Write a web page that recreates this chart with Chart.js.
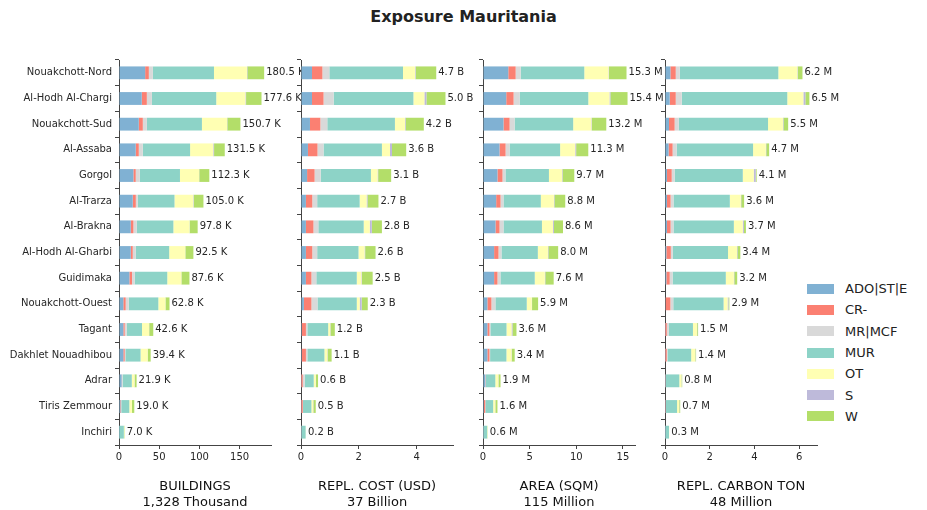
<!DOCTYPE html>
<html>
<head>
<meta charset="utf-8">
<script src="https://cdn.jsdelivr.net/npm/chart.js@4"></script>
<style>
  body { margin: 0; width: 927px; height: 510px; background: #fff; position: relative; overflow: hidden; font-family: "DejaVu Sans", sans-serif; }
  #title { position: absolute; top: 7px; left: 0; width: 927px; text-align: center; font-size: 16px; font-weight: bold; color: #222; }
  .panel { position: absolute; top: 0; height: 510px; }
  #legend { position: absolute; left: 807px; top: 278px; font-size: 13px; color: #222; }
  #legend div { height: 21.3px; display: flex; align-items: center; }
  #legend span.box { display: inline-block; width: 27px; height: 10px; margin-right: 11px; }
</style>
</head>
<body>
<div id="title">Exposure Mauritania</div>
<div id="legend"></div>

<script>
const regions = ["Nouakchott-Nord", "Al-Hodh Al-Chargi", "Nouakchott-Sud", "Al-Assaba", "Gorgol", "Al-Trarza",
  "Al-Brakna", "Al-Hodh Al-Gharbi", "Guidimaka", "Nouakchott-Ouest", "Tagant", "Dakhlet Nouadhibou",
  "Adrar", "Tiris Zemmour", "Inchiri"];
const seriesNames = ["ADO|ST|E", "CR-", "MR|MCF", "MUR", "OT", "S", "W"];
const seriesColors = ["#80b1d3", "#fb8072", "#d9d9d9", "#8dd3c7", "#ffffb3", "#bebada", "#b3de69"];

// rows = regions, columns = seriesNames
const buildings = [
  [32.5, 4.6, 5.0, 76.0, 41.0, 0.5, 20.9],
  [28.3, 6.3, 6.3, 80.0, 36.3, 0.8, 19.2],
  [24.6, 5.0, 5.0, 68.5, 31.3, 0.3, 16.3],
  [20.8, 3.8, 5.0, 58.8, 28.8, 1.0, 13.3],
  [17.9, 2.9, 5.0, 50.0, 23.8, 0.2, 12.5],
  [17.1, 3.8, 2.5, 45.6, 23.3, 0.6, 12.1],
  [14.6, 3.3, 4.2, 45.5, 20.0, 0.2, 10.0],
  [14.6, 2.5, 3.8, 41.5, 20.0, 0.1, 10.0],
  [12.9, 3.3, 3.3, 40.5, 17.5, 0.1, 10.0],
  [5.4, 2.9, 3.8, 36.8, 8.8, 0.1, 5.0],
  [5.4, 1.7, 2.5, 19.0, 8.8, 0.2, 5.0],
  [5.4, 1.7, 0.8, 18.9, 8.8, 0.1, 3.7],
  [3.3, 0.3, 0.8, 11.5, 3.3, 0.2, 2.5],
  [1.7, 0.8, 0.3, 10.0, 3.3, 0.0, 2.9],
  [0.3, 0.0, 0.0, 5.7, 0.5, 0.0, 0.5]
];
const replCost = [
  [0.38, 0.36, 0.24, 2.55, 0.42, 0.02, 0.71],
  [0.38, 0.40, 0.35, 2.76, 0.38, 0.07, 0.66],
  [0.31, 0.36, 0.24, 2.34, 0.35, 0.02, 0.63],
  [0.24, 0.33, 0.21, 2.02, 0.28, 0.07, 0.49],
  [0.21, 0.26, 0.21, 1.74, 0.23, 0.02, 0.45],
  [0.17, 0.22, 0.17, 1.47, 0.24, 0.03, 0.38],
  [0.17, 0.26, 0.17, 1.57, 0.21, 0.07, 0.35],
  [0.17, 0.22, 0.17, 1.43, 0.21, 0.02, 0.36],
  [0.17, 0.19, 0.17, 1.40, 0.16, 0.02, 0.37],
  [0.10, 0.26, 0.21, 1.36, 0.10, 0.07, 0.21],
  [0.03, 0.14, 0.05, 0.72, 0.07, 0.01, 0.15],
  [0.03, 0.14, 0.05, 0.59, 0.10, 0.01, 0.14],
  [0.01, 0.05, 0.07, 0.31, 0.07, 0.01, 0.07],
  [0.01, 0.05, 0.01, 0.29, 0.06, 0.01, 0.08],
  [0.01, 0.00, 0.01, 0.14, 0.01, 0.00, 0.00]
];
const area = [
  [2.71, 0.79, 0.54, 6.82, 2.60, 0.05, 1.88],
  [2.49, 0.79, 0.65, 7.36, 2.27, 0.10, 1.84],
  [2.20, 0.65, 0.54, 6.28, 1.95, 0.05, 1.55],
  [1.77, 0.65, 0.43, 5.42, 1.62, 0.10, 1.30],
  [1.55, 0.54, 0.32, 4.66, 1.41, 0.05, 1.26],
  [1.41, 0.47, 0.32, 4.00, 1.41, 0.05, 1.16],
  [1.34, 0.43, 0.43, 4.12, 1.19, 0.10, 0.97],
  [1.19, 0.47, 0.32, 3.90, 1.08, 0.05, 1.05],
  [1.19, 0.36, 0.32, 3.68, 1.08, 0.05, 0.90],
  [0.47, 0.43, 0.43, 3.36, 0.54, 0.03, 0.65],
  [0.47, 0.22, 0.10, 1.73, 0.54, 0.10, 0.43],
  [0.47, 0.22, 0.07, 1.75, 0.54, 0.03, 0.32],
  [0.25, 0.03, 0.04, 1.00, 0.32, 0.02, 0.22],
  [0.10, 0.14, 0.02, 0.83, 0.22, 0.02, 0.22],
  [0.03, 0.00, 0.02, 0.40, 0.05, 0.00, 0.02]
];
const carbon = [
  [0.24, 0.24, 0.18, 4.41, 0.85, 0.02, 0.21],
  [0.21, 0.27, 0.27, 4.72, 0.72, 0.09, 0.18],
  [0.18, 0.25, 0.18, 4.00, 0.67, 0.02, 0.21],
  [0.16, 0.18, 0.18, 3.42, 0.57, 0.02, 0.13],
  [0.09, 0.21, 0.13, 3.05, 0.49, 0.09, 0.04],
  [0.09, 0.16, 0.13, 2.52, 0.49, 0.02, 0.13],
  [0.09, 0.16, 0.13, 2.70, 0.40, 0.05, 0.09],
  [0.06, 0.20, 0.09, 2.47, 0.40, 0.02, 0.13],
  [0.06, 0.15, 0.13, 2.38, 0.36, 0.02, 0.13],
  [0.03, 0.21, 0.13, 2.25, 0.18, 0.04, 0.04],
  [0.01, 0.07, 0.09, 1.08, 0.18, 0.01, 0.04],
  [0.01, 0.07, 0.03, 1.06, 0.18, 0.01, 0.03],
  [0.01, 0.01, 0.02, 0.60, 0.09, 0.01, 0.03],
  [0.01, 0.02, 0.01, 0.50, 0.09, 0.01, 0.04],
  [0.01, 0.00, 0.01, 0.16, 0.01, 0.00, 0.00]
];

const buildingsLabels = ["180.5 K", "177.6 K", "150.7 K", "131.5 K", "112.3 K", "105.0 K", "97.8 K", "92.5 K", "87.6 K", "62.8 K", "42.6 K", "39.4 K", "21.9 K", "19.0 K", "7.0 K"];
const replCostLabels = ["4.7 B", "5.0 B", "4.2 B", "3.6 B", "3.1 B", "2.7 B", "2.8 B", "2.6 B", "2.5 B", "2.3 B", "1.2 B", "1.1 B", "0.6 B", "0.5 B", "0.2 B"];
const areaLabels = ["15.3 M", "15.4 M", "13.2 M", "11.3 M", "9.7 M", "8.8 M", "8.6 M", "8.0 M", "7.6 M", "5.9 M", "3.6 M", "3.4 M", "1.9 M", "1.6 M", "0.6 M"];
const carbonLabels = ["6.2 M", "6.5 M", "5.5 M", "4.7 M", "4.1 M", "3.6 M", "3.7 M", "3.4 M", "3.2 M", "2.9 M", "1.5 M", "1.4 M", "0.8 M", "0.7 M", "0.3 M"];

const panels = [
  { id: "p1", rows: buildings, labels: buildingsLabels, title: ["BUILDINGS", "1,328 Thousand"], max: 189, step: 50, plotLeft: 119, yw: 119, showNames: true },
  { id: "p2", rows: replCost, labels: replCostLabels, title: ["REPL. COST (USD)", "37 Billion"], max: 5.26, step: 2, plotLeft: 301, yw: 8 },
  { id: "p3", rows: area, labels: areaLabels, title: ["AREA (SQM)", "115 Million"], max: 16.3, step: 5, plotLeft: 483, yw: 8 },
  { id: "p4", rows: carbon, labels: carbonLabels, title: ["REPL. CARBON TON", "48 Million"], max: 6.8, step: 2, plotLeft: 665, yw: 8 }
];

const plotW = 152;
const extra = 60;
const textColor = "#262626";

// total label at the end of each stacked bar
const totalsPlugin = {
  id: "totals",
  afterDatasetsDraw(chart, args, opts) {
    const ctx = chart.ctx;
    ctx.save();
    ctx.font = "10px 'DejaVu Sans'";
    ctx.fillStyle = textColor;
    ctx.textBaseline = "middle";
    const n = chart.data.labels.length;
    for (let i = 0; i < n; i++) {
      let end = 0, y = 0;
      chart.data.datasets.forEach((ds, k) => {
        const el = chart.getDatasetMeta(k).data[i];
        if (el.x > end) end = el.x;
        y = el.y;
      });
      ctx.fillText(opts.labels[i], end + 2, y);
    }
    ctx.restore();
  }
};

panels.forEach((p) => {
  const wrap = document.createElement("div");
  wrap.className = "panel";
  wrap.style.left = (p.plotLeft - p.yw) + "px";
  wrap.style.width = (p.yw + plotW + extra) + "px";
  const canvas = document.createElement("canvas");
  wrap.appendChild(canvas);
  document.body.appendChild(wrap);

  const datasets = seriesNames.map((name, k) => ({
    label: name,
    data: p.rows.map((r) => r[k]),
    backgroundColor: seriesColors[k],
    borderWidth: 0,
    categoryPercentage: 1,
    barPercentage: 0.5
  }));

  new Chart(canvas, {
    type: "bar",
    data: { labels: regions, datasets: datasets },
    plugins: [totalsPlugin],
    options: {
      indexAxis: "y",
      responsive: true,
      maintainAspectRatio: false,
      animation: false,
      layout: { padding: { top: 60, right: extra, left: 0, bottom: 0 } },
      plugins: {
        legend: { display: false },
        tooltip: { enabled: false },
        totals: { labels: p.labels }
      },
      scales: {
        x: {
          stacked: true,
          min: 0,
          max: p.max,
          afterFit: (s) => { s.height = 65; },
          afterBuildTicks: (s) => {
            const t = [];
            for (let v = 0; v <= p.max; v += p.step) t.push({ value: v });
            s.ticks = t;
          },
          grid: { drawOnChartArea: false, drawTicks: true, tickLength: 4, color: "#444" },
          border: { display: true, color: "#444" },
          ticks: { color: textColor, font: { size: 10, family: "DejaVu Sans" }, maxRotation: 0, padding: 2 },
          title: { display: true, text: p.title, color: "#111", font: { size: 13, family: "DejaVu Sans", lineHeight: 1.2 }, padding: { top: 4, bottom: 0 } }
        },
        y: {
          stacked: true,
          afterFit: (s) => { s.width = p.yw; },
          grid: { drawOnChartArea: false, drawTicks: true, tickLength: 4, color: "#444" },
          border: { display: true, color: "#444" },
          ticks: {
            color: textColor,
            font: { size: 10, family: "DejaVu Sans" },
            padding: 3,
            callback: function (v) { return p.showNames ? this.getLabelForValue(v) : ""; }
          }
        }
      }
    }
  });
});

const legend = document.getElementById("legend");
seriesNames.forEach((name, k) => {
  const row = document.createElement("div");
  row.innerHTML = '<span class="box" style="background:' + seriesColors[k] + '"></span>' + name;
  legend.appendChild(row);
});
</script>
</body>
</html>
